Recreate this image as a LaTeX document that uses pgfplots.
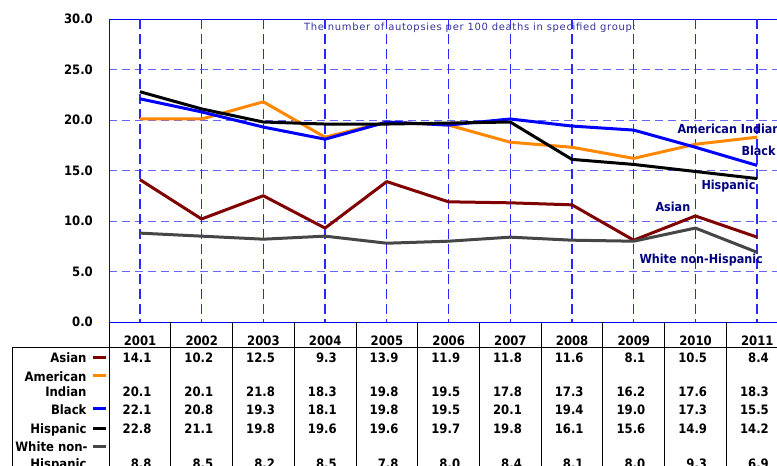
\documentclass[border=0pt]{standalone}
\usepackage{pgfplots}
\usepackage{pgfplotstable}
\pgfplotsset{compat=1.18}
\usepackage{fontspec}
\setmainfont{DejaVu Sans Condensed}
\newfontfamily\titlefont{DejaVu Sans}[LetterSpace=7]

\definecolor{asian}{RGB}{128,0,0}
\definecolor{amind}{RGB}{255,136,0}
\definecolor{black2}{RGB}{0,0,255}
\definecolor{hisp}{RGB}{0,0,0}
\definecolor{white2}{RGB}{70,70,70}
\definecolor{navy}{RGB}{0,0,128}
\definecolor{titleblue}{RGB}{51,51,153}
\definecolor{hgrid}{RGB}{100,100,255}
\definecolor{vgrid}{RGB}{40,40,255}

% autopsies per 100 deaths
\pgfplotstableread{
x year asian amind black hisp white
0 2001 14.1 20.1 22.1 22.8 8.8
1 2002 10.2 20.1 20.8 21.1 8.5
2 2003 12.5 21.8 19.3 19.8 8.2
3 2004 9.3 18.3 18.1 19.6 8.5
4 2005 13.9 19.8 19.8 19.6 7.8
5 2006 11.9 19.5 19.5 19.7 8.0
6 2007 11.8 17.8 20.1 19.8 8.4
7 2008 11.6 17.3 19.4 16.1 8.1
8 2009 8.1 16.2 19.0 15.6 8.0
9 2010 10.5 17.6 17.3 14.9 9.3
10 2011 8.4 18.3 15.5 14.2 6.9
}\data

\newcommand{\bigf}{\bfseries\fontsize{13}{13}\selectfont}

\begin{document}
\begin{tikzpicture}
\begin{axis}[
  at={(109bp,-322bp)}, anchor=south west,
  width=679bp, height=303bp, scale only axis,
  xmin=-0.5, xmax=10.5, ymin=0, ymax=30,
  xtick=\empty,
  ytick={0,5,...,30},
  yticklabel style={anchor=east, inner sep=0pt, xshift=-16bp, font=\bigf,
    /pgf/number format/.cd, fixed, fixed zerofill, precision=1, assume math mode=true},
  major tick length=0pt,
  tick style={draw=none},
  ymajorgrids,
  y grid style={color=hgrid, dash pattern=on 8bp off 5bp, line width=0.9bp},
  axis line style={draw=blue, line width=0.9bp},
  every axis plot/.append style={line width=3bp, line join=round},
  clip=false,
]
% vertical grid at each year
\pgfplotsinvokeforeach{0,...,10}{
  \draw[vgrid, dash pattern=on 10bp off 5bp, line width=1.4bp]
    (axis cs:#1,30) -- (axis cs:#1,0);
}
\addplot[asian] table[x=x, y=asian] {\data};
\addplot[amind] table[x=x, y=amind] {\data};
\addplot[black2] table[x=x, y=black] {\data};
\addplot[hisp] table[x=x, y=hisp] {\data};
\addplot[white2] table[x=x, y=white] {\data};
\end{axis}

\begin{scope}[x=1bp, y=-1bp]
  % title inside plot area
  \node[anchor=base, text=titleblue, font=\titlefont\fontsize{10}{10}\selectfont] at (470,31)
    {The number of autopsies per 100 deaths in specified group:};
  % series labels
  \begin{scope}[every node/.style={anchor=base west, text=navy, font=\bfseries\fontsize{12.5}{12.5}\selectfont}]
    \node at (674,133.5) {American Indian};
    \node at (738,156) {Black};
    \node at (698,189.5) {Hispanic};
    \node at (652,211.7) {Asian};
    \node at (636,264) {White non-Hispanic};
  \end{scope}

  % data table
  \draw[line width=0.8bp] (12,347.5) -- (777,347.5);
  \draw[line width=0.8bp] (12,347.5) -- (12,466);
  \foreach \k in {0,...,10}
    \draw[line width=0.8bp] (109+61.73*\k,322) -- (109+61.73*\k,466);
  \foreach \k in {0,...,10} {
    \pgfplotstablegetelem{\k}{year}\of\data
    \node[anchor=base, font=\bigf] at (140+61.73*\k,345.5) {\pgfplotsretval};
  }
  \foreach \col/\yy in {asian/362.5, amind/396.5, black/414, hisp/433.5, white/468} {
    \foreach \k in {0,...,10} {
      \pgfplotstablegetelem{\k}{\col}\of\data
      \node[anchor=base east, font=\bigf] at (155+61.73*\k,\yy) {\pgfplotsretval};
    }
  }
  \begin{scope}[every node/.style={anchor=base east, font=\bigf}]
    \node at (90,362.5) {Asian};
    \node at (90,381.5) {American};
    \node at (90,396.5) {Indian};
    \node at (90,414) {Black};
    \node at (90,433.5) {Hispanic};
    \node at (91,451.5) {White non-};
    \node at (90,468) {Hispanic};
  \end{scope}
  \draw[asian, line width=3bp] (93,357.3) -- (106,357.3);
  \draw[amind, line width=3bp] (93,375) -- (106,375);
  \draw[black2, line width=3bp] (93,408.7) -- (106,408.7);
  \draw[hisp, line width=3bp] (93,428) -- (106,428);
  \draw[white2, line width=3bp] (93,446) -- (106,446);

  \pgfresetboundingbox
  \path[use as bounding box] (0,0) rectangle (777,466);
\end{scope}
\end{tikzpicture}
\end{document}
